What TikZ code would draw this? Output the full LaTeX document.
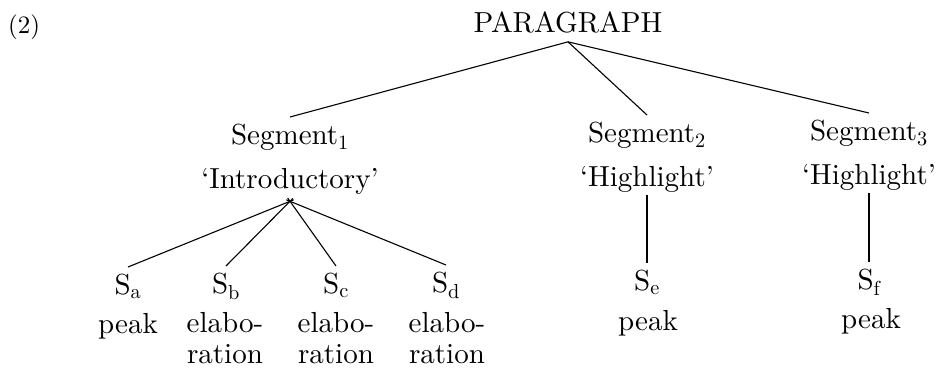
\documentclass[tikz,border=0pt]{standalone}
\usepackage{fontspec}
\setmainfont{lmroman10-regular.otf}
\begin{document}
\begin{tikzpicture}[x=1pt,y=-1pt,
  every node/.style={font=\fontsize{29}{33}\selectfont, inner xsep=0pt, align=center},
  catnode/.style={inner ysep=7pt, anchor=north},
  leafnode/.style={inner ysep=7pt, anchor=north},
  gloss/.style={inner sep=0pt, anchor=north, font=\fontsize{29}{31}\selectfont},
  branch/.style={line width=1.1pt},
  fromcat/.style={branch, shorten <=-4pt}]
\useasboundingbox (0,0) rectangle (939,370);

% example number
\node[anchor=base west, inner sep=0pt, font=\fontsize{25}{28}\selectfont] (num) at (8,33) {(2)};

% root
\node[anchor=base, inner ysep=9pt] (para) at (568,32) {PARAGRAPH};

% segments
\node[catnode] (seg1) at (290,117) {Segment\textsubscript{1}\\[10.5pt]`Introductory'};
\node[catnode] (seg2) at (647,115) {Segment\textsubscript{2}\\[10.5pt]`Highlight'};
\node[catnode] (seg3) at (869,113) {Segment\textsubscript{3}\\[10.5pt]`Highlight'};

% sentences
\node[leafnode] (sa) at (128,267) {S\textsubscript{a}};
\node[leafnode] (sb) at (226,266) {S\textsubscript{b}};
\node[leafnode] (sc) at (336,266) {S\textsubscript{c}};
\node[leafnode] (sd) at (446,265) {S\textsubscript{d}};
\node[leafnode] (se) at (647,263) {S\textsubscript{e}};
\node[leafnode] (sf) at (869,262) {S\textsubscript{f}};

% their functions
\node[gloss] (ga) at (128,313) {peak};
\node[gloss] (gb) at (225,312) {elabo-\\ration};
\node[gloss] (gc) at (336,312) {elabo-\\ration};
\node[gloss] (gd) at (447,312) {elabo-\\ration};
\node[gloss] (ge) at (648,310) {peak};
\node[gloss] (gf) at (871,308) {peak};

% branches
\draw[branch] (para.south) -- (seg1.north);
\draw[branch] (para.south) -- (seg2.north);
\draw[branch] (para.south) -- (seg3.north);
\foreach \leaf in {sa,sb,sc,sd}
  \draw[fromcat] (seg1.south) -- (\leaf.north);
\draw[fromcat] (seg2.south) -- (se.north);
\draw[fromcat] (seg3.south) -- (sf.north);
\end{tikzpicture}
\end{document}
